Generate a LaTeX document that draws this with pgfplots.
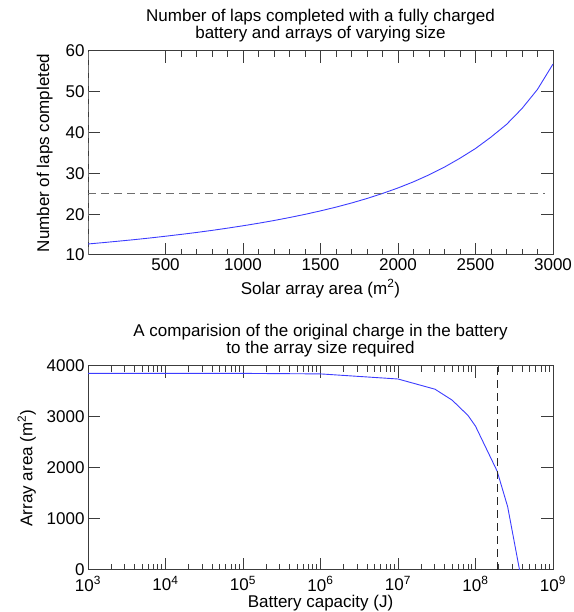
\documentclass[border=0pt]{standalone}
\usepackage{fontspec}
\setmainfont{Liberation Sans}
\usepackage{pgfplots}
\pgfplotsset{compat=1.18}

\definecolor{curve}{RGB}{60,60,255}
\definecolor{frame}{RGB}{60,60,60}
\definecolor{dashgray}{RGB}{110,110,110}

\pgfplotsset{
  laps/.style={
    width=465pt, height=204pt, scale only axis,
    font=\fontsize{17}{19}\selectfont,
    tick label style={font=\fontsize{17}{19}\selectfont},
    label style={font=\fontsize{17}{19}\selectfont},
    title style={font=\fontsize{17}{17.5}\selectfont, align=center, yshift=-1pt},
    /pgf/number format/assume math mode=true,
    /pgf/number format/1000 sep={},
    tick align=inside,
    major tick length=12pt,
    minor tick length=6pt,
    every tick/.style={frame, line width=1pt},
    axis line style={frame, line width=1pt},
    every axis plot/.append style={line width=0.9pt},
  }
}

\begin{document}
\begin{tikzpicture}
\path[use as bounding box] (0,0) rectangle (573pt,612pt);

% upper panel: laps against array area
\begin{axis}[laps,
  at={(88pt,357pt)}, anchor=south west,
  title={Number of laps completed with a fully charged\\battery and arrays of varying size},
  xlabel={Solar array area (m\textsuperscript{2})},
  ylabel={Number of laps completed},
  xmin=0, xmax=3000, ymin=10, ymax=60,
  xtick={500,1000,...,3000},
  minor x tick num=4,
  ytick={10,20,...,60},
  ylabel style={yshift=6pt},
  xlabel style={yshift=-2pt},
]
\addplot[curve, no marks] coordinates {
  (0,12.70) (100,13.04) (200,13.40) (300,13.77) (400,14.17) (500,14.60)
  (600,15.05) (700,15.52) (800,16.03) (900,16.58) (1000,17.16)
  (1100,17.78) (1200,18.45) (1300,19.18) (1400,19.96) (1500,20.81)
  (1600,21.73) (1700,22.74) (1800,23.85) (1900,25.08) (2000,26.43)
  (2100,27.94) (2200,29.64) (2300,31.55) (2400,33.72) (2500,36.10)
  (2600,38.90) (2700,42.00) (2800,45.90) (2900,50.60) (3000,56.80)
};
\addplot[dashgray, no marks, line width=1pt, dash pattern=on 8pt off 5pt]
  coordinates {(0,25) (2950,25)};
\addplot[dashgray, no marks, line width=1pt, dash pattern=on 8pt off 5pt]
  coordinates {(0,10) (0,60)};
\end{axis}

% lower panel: array area against battery capacity
\begin{axis}[laps,
  at={(88pt,42pt)}, anchor=south west,
  title={A comparision of the original charge in the battery\\to the array size required},
  xlabel={Battery capacity (J)},
  ylabel={Array area (m\textsuperscript{2})},
  xmode=log, xmin=1e3, xmax=1e9, ymin=0, ymax=4000,
  xtick={1e3,1e4,1e5,1e6,1e7,1e8,1e9},
  xticklabels={10\textsuperscript{3},10\textsuperscript{4},10\textsuperscript{5},10\textsuperscript{6},10\textsuperscript{7},10\textsuperscript{8},10\textsuperscript{9}},
  ytick={0,1000,...,4000},
  xticklabel style={yshift=-3pt},
  xlabel style={yshift=3pt},
  ylabel style={yshift=4pt},
]
\addplot[curve, no marks] coordinates {
  (1e3,3855) (1e4,3855) (1e5,3855) (1e6,3845) (1e7,3745) (3e7,3545)
  (5e7,3330) (8e7,3030) (1e8,2820) (1.9e8,1940) (2.6e8,1240) (3.7e8,0)
};
\addplot[black!85, no marks, line width=1pt, dash pattern=on 8pt off 5pt]
  coordinates {(1.9e8,0) (1.9e8,4000)};
\end{axis}
\end{tikzpicture}
\end{document}
